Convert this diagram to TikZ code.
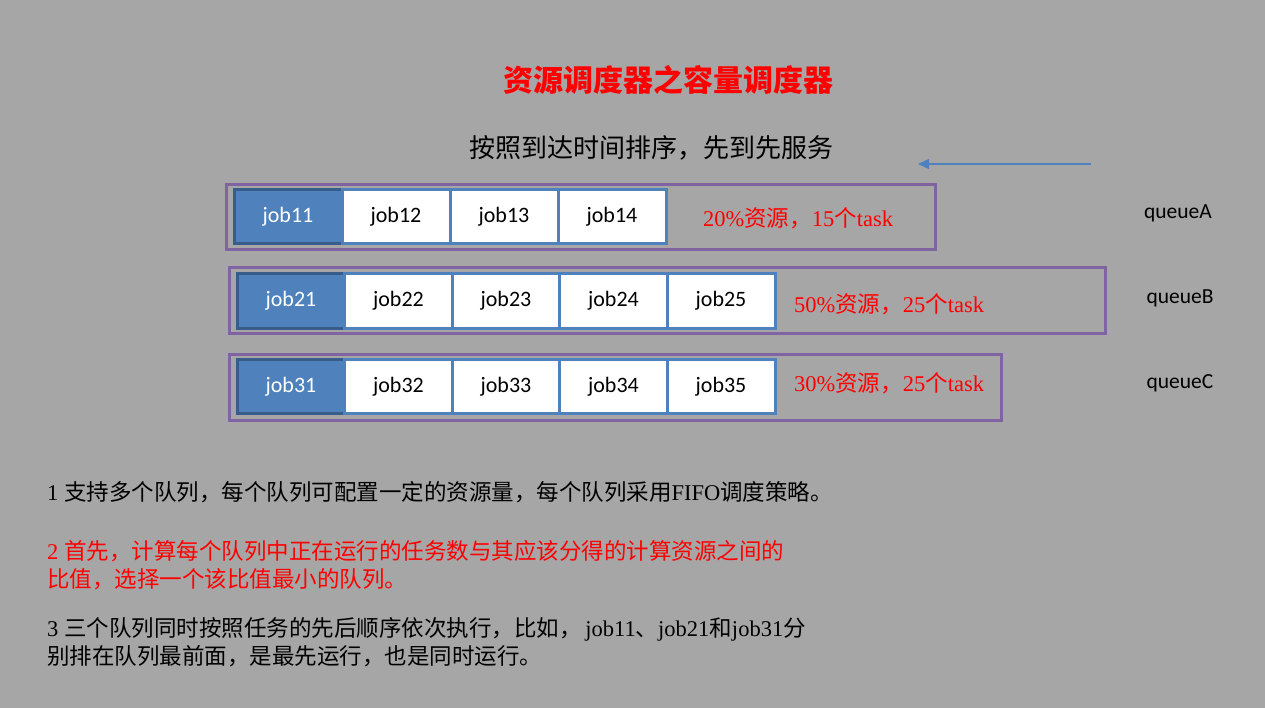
\documentclass[tikz,border=0pt]{standalone}
\usepackage{fontspec}
\setmainfont{Liberation Serif}
\newfontfamily\cjk{Noto Sans CJK SC}
\newfontfamily\jobf{Carlito}
\usetikzlibrary{arrows.meta}
\definecolor{bg}{HTML}{A6A6A6}
\definecolor{qpurple}{HTML}{8064A2}
\definecolor{jblue}{HTML}{4F81BD}
\definecolor{jdark}{HTML}{385D8A}
\newcommand\C[1]{{\cjk #1}}
\begin{document}
\begin{tikzpicture}[x=1pt,y=-1pt,
  queuebox/.style={draw=qpurple,line width=3pt,inner sep=0pt},
  jobbox/.style={draw=jblue,fill=white,line width=3pt,minimum width=108pt,minimum height=54pt,inner sep=0pt,font=\jobf\fontsize{22}{24}\selectfont,text=black},
  firstjob/.style={jobbox,draw=jdark,fill=jblue,text=white},
  qlabel/.style={font=\jobf\fontsize{21.5}{24}\selectfont,inner sep=0pt},
  share/.style={anchor=west,inner sep=0pt,text=red,font=\fontsize{22.5}{27}\selectfont},
  body/.style={anchor=west,inner sep=0pt,align=left,font=\fontsize{22.5}{28}\selectfont},
  flow/.style={draw=jblue,line width=1.5pt,-{Triangle[length=11pt,width=10pt]}}
]
\useasboundingbox (0,0) rectangle (1265,708);
\fill[bg] (0,0) rectangle (1265,708);

\node[font=\cjk\bfseries\fontsize{30}{36}\selectfont,text=red] (title) at (668,80) {资源调度器之容量调度器};
\node[font=\cjk\fontsize{26}{31}\selectfont] (sub) at (651,148) {按照到达时间排序，先到先服务};

\coordinate (arrS) at (1091,164);
\coordinate (arrE) at (918,164);
\draw[flow] (arrS) -- (arrE);

% queue A
\node[queuebox,minimum width=708.5pt,minimum height=65pt] (qA) at (580.75,217) {};
\node[firstjob] (j11) at (288,217) {job11};
\node[jobbox] (j12) at (396,217) {job12};
\node[jobbox] (j13) at (504,217) {job13};
\node[jobbox] (j14) at (612,217) {job14};
\node[share] (sA) at (703,218) {20\%\C{资源，}15\C{个}task};
\node[qlabel] (lA) at (1178,213) {queueA};

% queue B
\node[queuebox,minimum width=876pt,minimum height=65.5pt] (qB) at (667,300.75) {};
\node[firstjob] (j21) at (291,301) {job21};
\node[jobbox] (j22) at (398.5,301) {job22};
\node[jobbox] (j23) at (506,301) {job23};
\node[jobbox] (j24) at (613.5,301) {job24};
\node[jobbox] (j25) at (721,301) {job25};
\node[share] (sB) at (794,304) {50\%\C{资源，}25\C{个}task};
\node[qlabel] (lB) at (1180,298) {queueB};

% queue C
\node[queuebox,minimum width=772pt,minimum height=66pt] (qC) at (615,387) {};
\node[firstjob] (j31) at (291,386.5) {job31};
\node[jobbox] (j32) at (398.5,386.5) {job32};
\node[jobbox] (j33) at (506,386.5) {job33};
\node[jobbox] (j34) at (613.5,386.5) {job34};
\node[jobbox] (j35) at (721,386.5) {job35};
\node[share] (sC) at (794,383) {30\%\C{资源，}25\C{个}task};
\node[qlabel] (lC) at (1180,383) {queueC};

% notes
\node[body] (n1) at (47,492) {1 \C{支持多个队列，每个队列可配置一定的资源量，每个队列采用}FIFO\C{调度策略。}};
\node[body,text=red] (n2) at (47,565) {2 \C{首先，计算每个队列中正在运行的任务数与其应该分得的计算资源之间的}\\\C{比值，选择一个该比值最小的队列。}};
\node[body] (n3) at (47,642.5) {3 \C{三个队列同时按照任务的先后顺序依次执行，比如，}\,job11\C{、}job21\C{和}job31\C{分}\\\C{别排在队列最前面，是最先运行，也是同时运行。}};
\end{tikzpicture}
\end{document}
